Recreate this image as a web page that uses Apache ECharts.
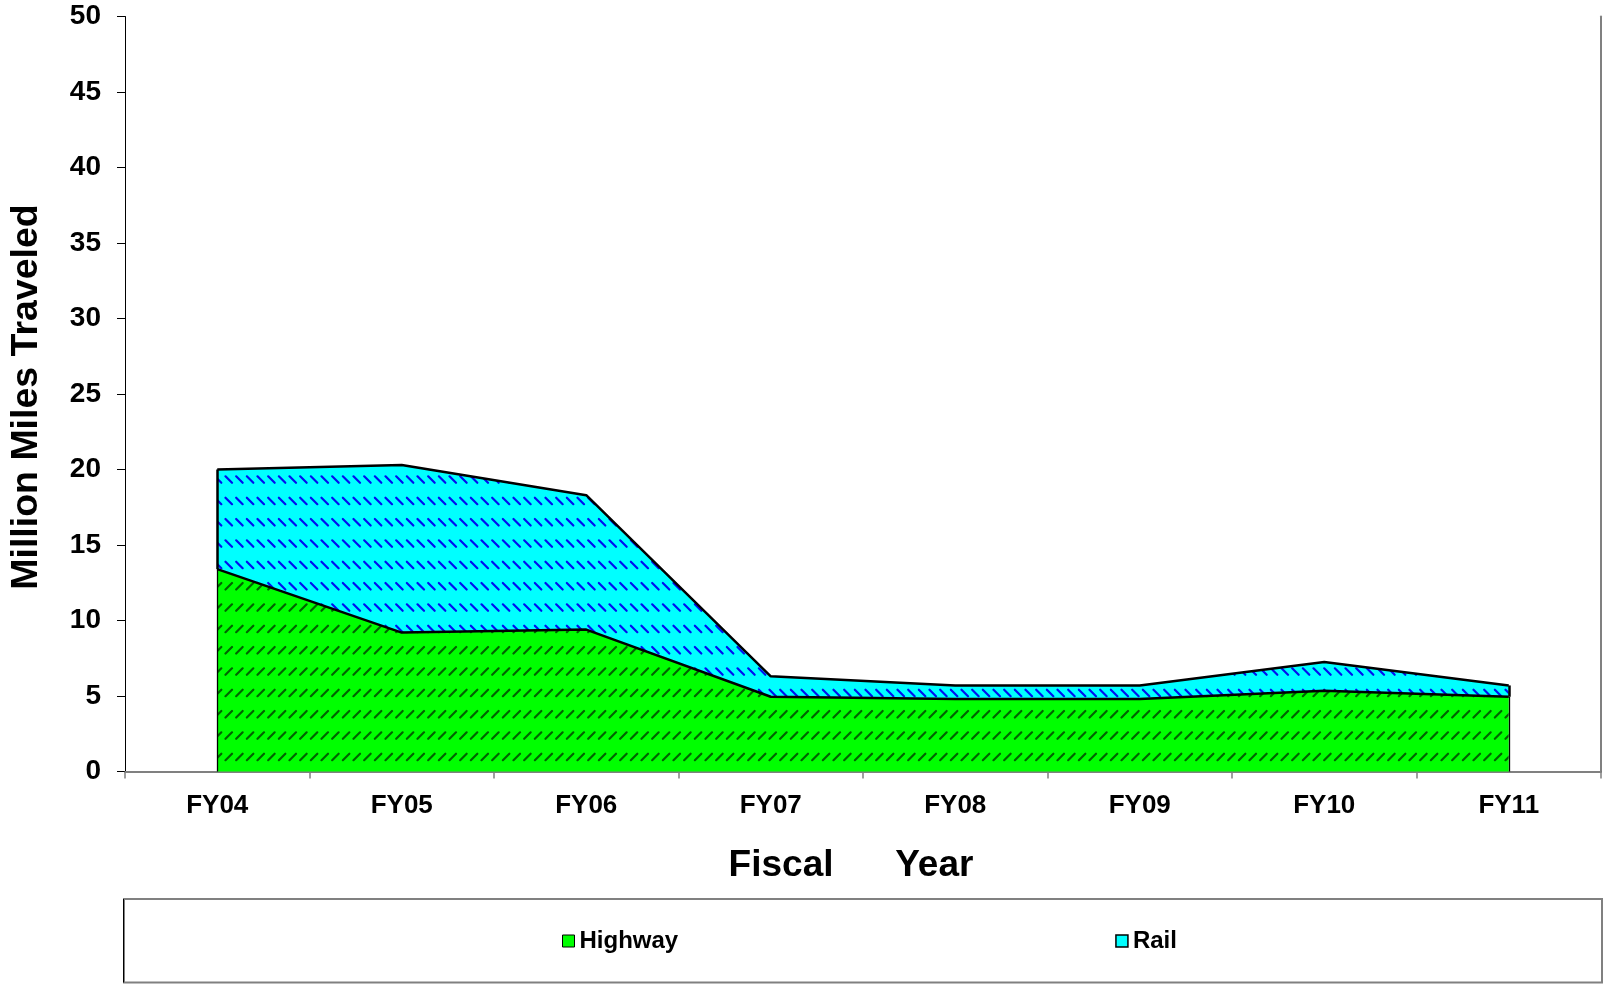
<!DOCTYPE html>
<html>
<head>
<meta charset="utf-8">
<script src="https://cdn.jsdelivr.net/npm/echarts@6/dist/echarts.min.js"></script>
<style>
  html, body { margin: 0; padding: 0; background: #ffffff; }
  #chart { width: 1604px; height: 987px; }
</style>
</head>
<body>
<div id="chart"></div>
<script>
// Fiscal-year categories and miles travelled (millions) per mode
const categories = ['FY04', 'FY05', 'FY06', 'FY07', 'FY08', 'FY09', 'FY10', 'FY11'];
const highway = [13.4, 9.2, 9.4, 4.95, 4.8, 4.8, 5.35, 4.95];
const rail = [6.6, 11.1, 8.9, 1.35, 0.9, 0.9, 1.9, 0.75];
const yMin = 0, yMax = 50, yStep = 5;

const FONT = '"Liberation Sans", Arial, sans-serif';

// Small diagonal-dash hatch tile used as an area fill
function hatch(bg, fg, rising) {
  const c = document.createElement('canvas');
  c.width = 32; c.height = 64;
  const g = c.getContext('2d');
  g.fillStyle = bg;
  g.fillRect(0, 0, 32, 64);
  g.strokeStyle = fg;
  g.lineWidth = 2.2;
  g.lineCap = 'round';
  for (let r = 0; r < 3; r++) {
    for (let k = 0; k < 3; k++) {
      const x0 = k * 32 / 3 + 1.5;
      const y0 = r * 64 / 3 + 7;
      g.beginPath();
      if (rising) { g.moveTo(x0, y0 + 6.5); g.lineTo(x0 + 6.5, y0); }
      else { g.moveTo(x0, y0); g.lineTo(x0 + 6.5, y0 + 6.5); }
      g.stroke();
    }
  }
  return c;
}

const totals = highway.map((h, i) => h + rail[i]);
const last = categories.length - 1;

const chart = echarts.init(document.getElementById('chart'), null, { renderer: 'canvas' });

chart.setOption({
  animation: false,
  backgroundColor: '#ffffff',
  textStyle: { fontFamily: FONT },
  grid: { left: 125, right: 3, top: 16.5, bottom: 215.5, containLabel: false, outerBoundsMode: 'none' },
  legend: {
    left: 557, top: 924,
    itemWidth: 12, itemHeight: 12, itemGap: 437,
    icon: 'rect',
    textStyle: { fontSize: 24, fontWeight: 'bold', color: '#000', fontFamily: FONT },
    data: [
      { name: 'Highway', itemStyle: { color: '#00ff00', borderColor: '#000', borderWidth: 1 } },
      { name: 'Rail', itemStyle: { color: '#00ffff', borderColor: '#000', borderWidth: 1.5 } }
    ]
  },
  xAxis: [
    {
      type: 'category', data: categories, boundaryGap: true,
      axisLine: { show: true, lineStyle: { color: '#000', width: 1 } },
      axisTick: { show: true, length: 7, lineStyle: { color: '#808080', width: 1.5 } },
      axisLabel: { show: true, interval: 0, margin: 21, fontSize: 26, fontWeight: 'bold', color: '#000', fontFamily: FONT },
      splitLine: { show: false }
    },
    {
      type: 'category', data: categories, position: 'top',
      axisLine: { show: true, lineStyle: { color: '#808080', width: 2 } },
      axisTick: { show: false }, axisLabel: { show: false }, splitLine: { show: false }
    }
  ],
  yAxis: [
    {
      type: 'value', min: yMin, max: yMax, interval: yStep,
      axisLine: { show: true, lineStyle: { color: '#000', width: 1 } },
      axisTick: { show: true, length: 8, lineStyle: { color: '#000', width: 1 } },
      axisLabel: { show: true, margin: 24, fontSize: 28, fontWeight: 'bold', color: '#000', fontFamily: FONT, padding: [5, 0, 0, 0] },
      splitLine: { show: false }
    },
    {
      type: 'value', min: yMin, max: yMax, interval: yStep, position: 'right',
      axisLine: { show: true, lineStyle: { color: '#808080', width: 2 } },
      axisTick: { show: false }, axisLabel: { show: false }, splitLine: { show: false }
    }
  ],
  series: [
    {
      name: 'Highway', type: 'line', stack: 'miles', z: 3,
      data: highway, symbol: 'none', smooth: false,
      color: '#00ff00',
      lineStyle: { color: '#000', width: 2.5 },
      areaStyle: { color: { image: hatch('#00ff00', '#006400', true), repeat: 'repeat' }, opacity: 1 },
      markLine: {
        silent: true, symbol: 'none', label: { show: false },
        lineStyle: { color: '#000', width: 1.3, type: 'solid' },
        data: [
          [{ coord: [categories[0], 0] }, { coord: [categories[0], highway[0]] }],
          [{ coord: [categories[last], 0] }, { coord: [categories[last], highway[last]] }]
        ]
      }
    },
    {
      name: 'Rail', type: 'line', stack: 'miles', z: 2,
      data: rail, symbol: 'none', smooth: false,
      color: '#00ffff',
      lineStyle: { color: '#000', width: 2.5 },
      areaStyle: { color: { image: hatch('#00ffff', '#0010f0', false), repeat: 'repeat' }, opacity: 1 },
      markLine: {
        silent: true, symbol: 'none', label: { show: false },
        lineStyle: { color: '#000', width: 2.5, type: 'solid' },
        data: [
          [{ coord: [categories[0], highway[0]] }, { coord: [categories[0], totals[0]] }],
          [{ coord: [categories[last], highway[last]] }, { coord: [categories[last], totals[last]] }]
        ]
      }
    }
  ],
  graphic: [
    {
      type: 'text', x: 27, y: 397, rotation: Math.PI / 2,
      style: {
        text: 'Million Miles Traveled', fill: '#000',
        font: 'bold 37.5px ' + FONT, textAlign: 'center', textVerticalAlign: 'middle'
      }
    },
    {
      type: 'text', x: 851, y: 865.5,
      style: {
        text: 'Fiscal      Year', fill: '#000',
        font: 'bold 37px ' + FONT, textAlign: 'center', textVerticalAlign: 'middle'
      }
    },
    {
      type: 'rect', shape: { x: 124, y: 899, width: 1478, height: 83.5 },
      style: { fill: 'none', stroke: '#808080', lineWidth: 2 }
    },
    {
      type: 'line', shape: { x1: 123.5, y1: 899, x2: 123.5, y2: 982.5 },
      style: { stroke: '#000', lineWidth: 1 }
    }
  ]
});
</script>
</body>
</html>
